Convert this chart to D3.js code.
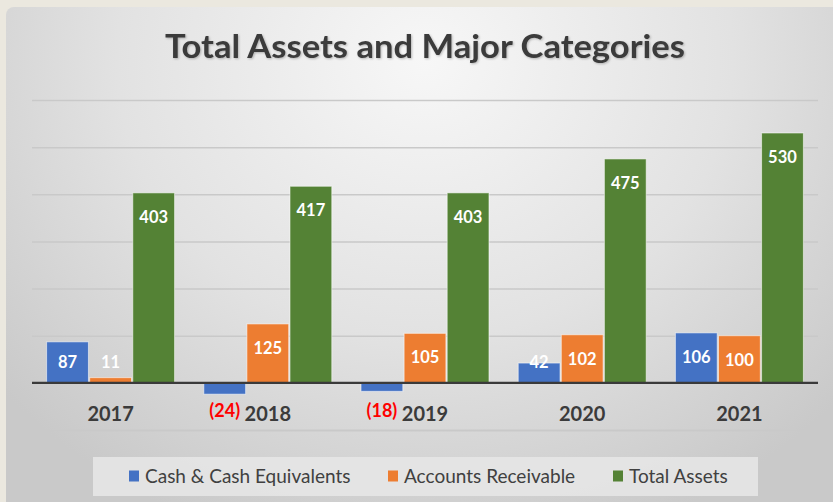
<!DOCTYPE html>
<html>
<head>
<meta charset="utf-8">
<script src="https://cdn.jsdelivr.net/npm/d3@7"></script>
<style>
  html, body { margin: 0; padding: 0; background: #ebe8df; }
  svg { display: block; }
</style>
</head>
<body>
<svg id="chart" width="833" height="502"></svg>
<script>
// chart values
const years = ['2017', '2018', '2019', '2020', '2021'];
const seriesNames = ['Cash & Cash Equivalents', 'Accounts Receivable', 'Total Assets'];
const cashValues = [87, -24, -18, 42, 106];
const receivableValues = [11, 125, 105, 102, 100];
const totalAssetValues = [403, 417, 403, 475, 530];
const yTicks = [-100, 0, 100, 200, 300, 400, 500, 600];
const colors = ['#4472c4', '#ed7d31', '#548235'];

const W = 833, H = 502;
const svg = d3.select('#chart');
const defs = svg.append('defs');

// panel background: light in the middle, grey at the edges
const grad = defs.append('radialGradient')
    .attr('id', 'panelGrad')
    .attr('gradientUnits', 'userSpaceOnUse')
    .attr('cx', 425).attr('cy', 60).attr('r', 560)
    .attr('gradientTransform', 'translate(425,60) scale(1,0.9) translate(-425,-60)');
grad.append('stop').attr('offset', '0%').attr('stop-color', '#f7f7f7');
grad.append('stop').attr('offset', '55%').attr('stop-color', '#e2e2e2');
grad.append('stop').attr('offset', '100%').attr('stop-color', '#c9c9c9');

const shadow = defs.append('filter').attr('id', 'titleShadow')
    .attr('x', '-5%').attr('y', '-30%').attr('width', '110%').attr('height', '160%');
shadow.append('feDropShadow')
    .attr('dx', 1).attr('dy', 1).attr('stdDeviation', 1)
    .attr('flood-color', '#000').attr('flood-opacity', 0.25);

svg.append('rect')
    .attr('x', 6).attr('y', 7)
    .attr('width', W + 20).attr('height', H + 20)
    .attr('rx', 8)
    .attr('fill', 'url(#panelGrad)');

// title
svg.append('text')
    .attr('x', 425).attr('y', 58)
    .attr('text-anchor', 'middle')
    .attr('font-family', 'Lato, sans-serif')
    .attr('font-weight', 'bold')
    .attr('font-size', 33)
    .attr('textLength', 520)
    .attr('lengthAdjust', 'spacingAndGlyphs')
    .attr('fill', '#3b3b3b')
    .attr('filter', 'url(#titleShadow)')
    .text('Total Assets and Major Categories');

// scales
const x0 = d3.scaleBand()
    .domain(years)
    .range([32, 818])
    .paddingInner(0.186)
    .paddingOuter(0.093);

const x1 = d3.scaleBand()
    .domain(seriesNames)
    .range([0, x0.bandwidth()])
    .paddingInner(0.03);

const y = d3.scaleLinear()
    .domain([-100, 600])
    .range([430, 100]);

// gridlines
const grid = svg.append('g')
    .attr('class', 'grid')
    .call(d3.axisLeft(y).tickValues(yTicks).tickSize(-(818 - 32)).tickFormat(''))
    .attr('transform', 'translate(32,0)');
grid.select('.domain').remove();
grid.selectAll('.tick line')
    .attr('stroke', d => d === 0 ? 'none' : '#c9c9c9')
    .attr('stroke-width', d => d === -100 ? 1.8 : 1.5);

// bar data per year
const rows = years.map((yr, i) => ({
  year: yr,
  values: [cashValues[i], receivableValues[i], totalAssetValues[i]]
}));

const groups = svg.append('g').selectAll('g')
    .data(rows)
    .join('g')
    .attr('transform', d => `translate(${x0(d.year)},0)`);

groups.selectAll('rect')
    .data(d => d.values.map((v, k) => ({ v, k, name: seriesNames[k] })))
    .join('rect')
    .attr('x', d => x1(d.name))
    .attr('width', x1.bandwidth())
    .attr('y', d => y(Math.max(0, d.v)))
    .attr('height', d => Math.abs(y(d.v) - y(0)))
    .attr('fill', d => colors[d.k])
    .attr('stroke', 'rgba(255,255,255,0.55)')
    .attr('stroke-width', 1);

// zero line
svg.append('line')
    .attr('x1', 32).attr('x2', 818)
    .attr('y1', y(0)).attr('y2', y(0))
    .attr('stroke', '#3a3a3a')
    .attr('stroke-width', 2.2);

// value labels: positives inside the top, negatives red beneath the axis
groups.selectAll('text.val')
    .data(d => d.values.map((v, k) => ({ v, k, name: seriesNames[k] })))
    .join('text')
    .attr('class', 'val')
    .attr('x', d => x1(d.name) + x1.bandwidth() / 2)
    .attr('y', d => d.v >= 0 ? Math.min(y(d.v) + 24, y(0) - 21) + 6 : y(0) + 34)
    .attr('text-anchor', 'middle')
    .attr('font-family', 'Lato, sans-serif')
    .attr('font-weight', 'bold')
    .attr('font-size', d => d.v >= 0 ? 16.5 : 18)
    .attr('fill', d => d.v >= 0 ? '#ffffff' : '#ff0000')
    .text(d => d.v >= 0 ? d.v : '(' + Math.abs(d.v) + ')');

// category axis labels
const xAxis = svg.append('g')
    .attr('transform', `translate(0,${y(0)})`)
    .call(d3.axisBottom(x0).tickSize(0).tickPadding(0));
xAxis.select('.domain').remove();
xAxis.selectAll('text')
    .attr('y', 38)
    .attr('dy', 0)
    .attr('font-family', 'Lato, sans-serif')
    .attr('font-weight', 'bold')
    .attr('font-size', 20)
    .attr('fill', '#3b3b3b');

// legend
const legend = svg.append('g');
legend.append('rect')
    .attr('x', 93).attr('y', 457)
    .attr('width', 665).attr('height', 39)
    .attr('fill', '#e6e6e6')
    .attr('opacity', 0.9);

const legendX = [129, 388, 613];
const items = legend.selectAll('g.item')
    .data(seriesNames)
    .join('g')
    .attr('class', 'item')
    .attr('transform', (d, i) => `translate(${legendX[i]},476)`);
items.append('rect')
    .attr('x', 0).attr('y', -5.5)
    .attr('width', 10).attr('height', 11)
    .attr('fill', (d, i) => colors[i]);
items.append('text')
    .attr('x', 16).attr('y', 6.5)
    .attr('font-family', 'Lato, sans-serif')
    .attr('font-size', 19)
    .attr('fill', '#404040')
    .text(d => d);
</script>
</body>
</html>
